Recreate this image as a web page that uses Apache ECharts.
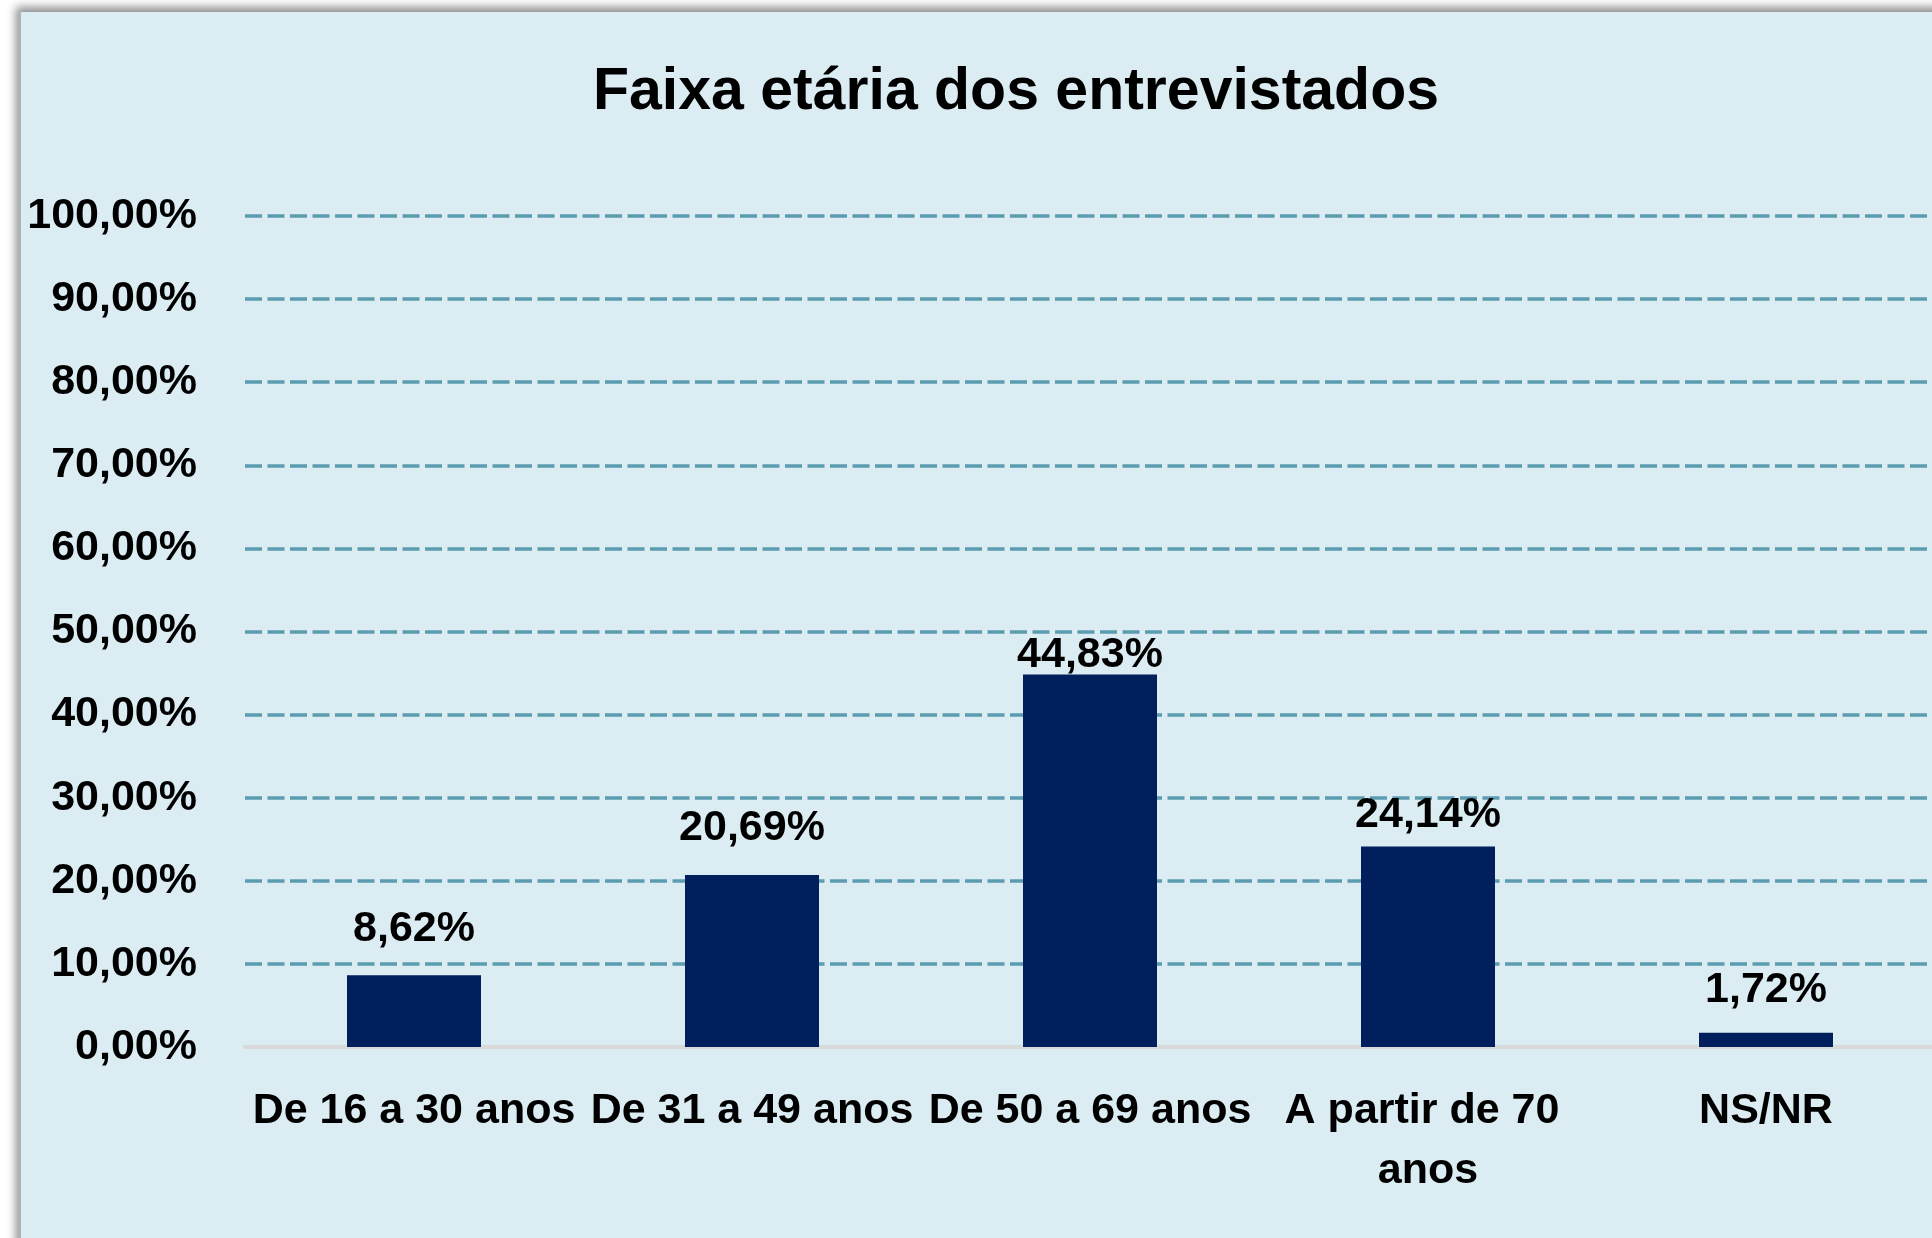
<!DOCTYPE html>
<html>
<head>
<meta charset="utf-8">
<script src="https://cdn.jsdelivr.net/npm/echarts@6/dist/echarts.min.js"></script>
<style>
  html, body { margin: 0; padding: 0; background: #ffffff; overflow: hidden; }
  /* painel azul claro com sombra, como no gráfico do Excel */
  #panel {
    position: absolute; left: 19px; top: 12px; width: 1940px; height: 1260px;
    background: #dbecf2; border-left: 2px solid #a9b4b8;
    box-shadow: -3px -5px 9px rgba(0,0,0,0.45);
  }
  #chart { position: absolute; left: 0; top: 0; width: 1932px; height: 1238px; }
</style>
</head>
<body>
<div id="panel"></div>
<div id="chart"></div>
<script>
// dados do gráfico
const categorias = ['De 16 a 30 anos', 'De 31 a 49 anos', 'De 50 a 69 anos', 'A partir de 70 anos', 'NS/NR'];
const percentuais = [8.62, 20.69, 44.83, 24.14, 1.72];
const yTicks = [0, 10, 20, 30, 40, 50, 60, 70, 80, 90, 100];

// distância do rótulo até o topo da barra (estilo, não dado)
const distRotulo = [25, 25, -2, 10, 21];

const fonte = '"Liberation Sans", Arial, sans-serif';
const fmt = v => v.toFixed(2).replace('.', ',') + '%';

var myChart = echarts.init(document.getElementById('chart'));
myChart.setOption({
  backgroundColor: 'transparent',
  animation: false,
  title: {
    text: 'Faixa etária dos entrevistados',
    left: 1011, top: 58, textAlign: 'center',
    textStyle: { fontFamily: fonte, fontWeight: 'bold', fontSize: 59, color: '#000' }
  },
  grid: { left: 245, top: 216, bottom: 191, width: 1690, containLabel: false, outerBoundsMode: 'none' },
  xAxis: {
    type: 'category',
    data: categorias,
    axisLine: { lineStyle: { color: '#d9d9d9', width: 4 } },
    axisTick: { show: false },
    axisLabel: {
      interval: 0, margin: 34, width: 334, overflow: 'break',
      fontFamily: fonte, fontWeight: 'bold', fontSize: 43, lineHeight: 60, color: '#000'
    }
  },
  yAxis: {
    type: 'value',
    min: yTicks[0], max: yTicks[yTicks.length - 1], interval: 10,
    axisLine: { show: false },
    axisTick: { show: false },
    axisLabel: {
      margin: 48, formatter: fmt,
      fontFamily: fonte, fontWeight: 'bold', fontSize: 43, color: '#000'
    },
    splitLine: { lineStyle: { color: '#5b9cb0', width: 3.5, type: [17, 5.5] } }
  },
  series: [{
    type: 'bar',
    barWidth: 134,
    itemStyle: { color: '#001f5c' },
    data: percentuais.map((v, i) => ({
      value: v,
      label: { distance: distRotulo[i] }
    })),
    label: {
      show: true, position: 'top', formatter: p => fmt(p.value),
      fontFamily: fonte, fontWeight: 'bold', fontSize: 43, color: '#000'
    }
  }]
});
</script>
</body>
</html>
